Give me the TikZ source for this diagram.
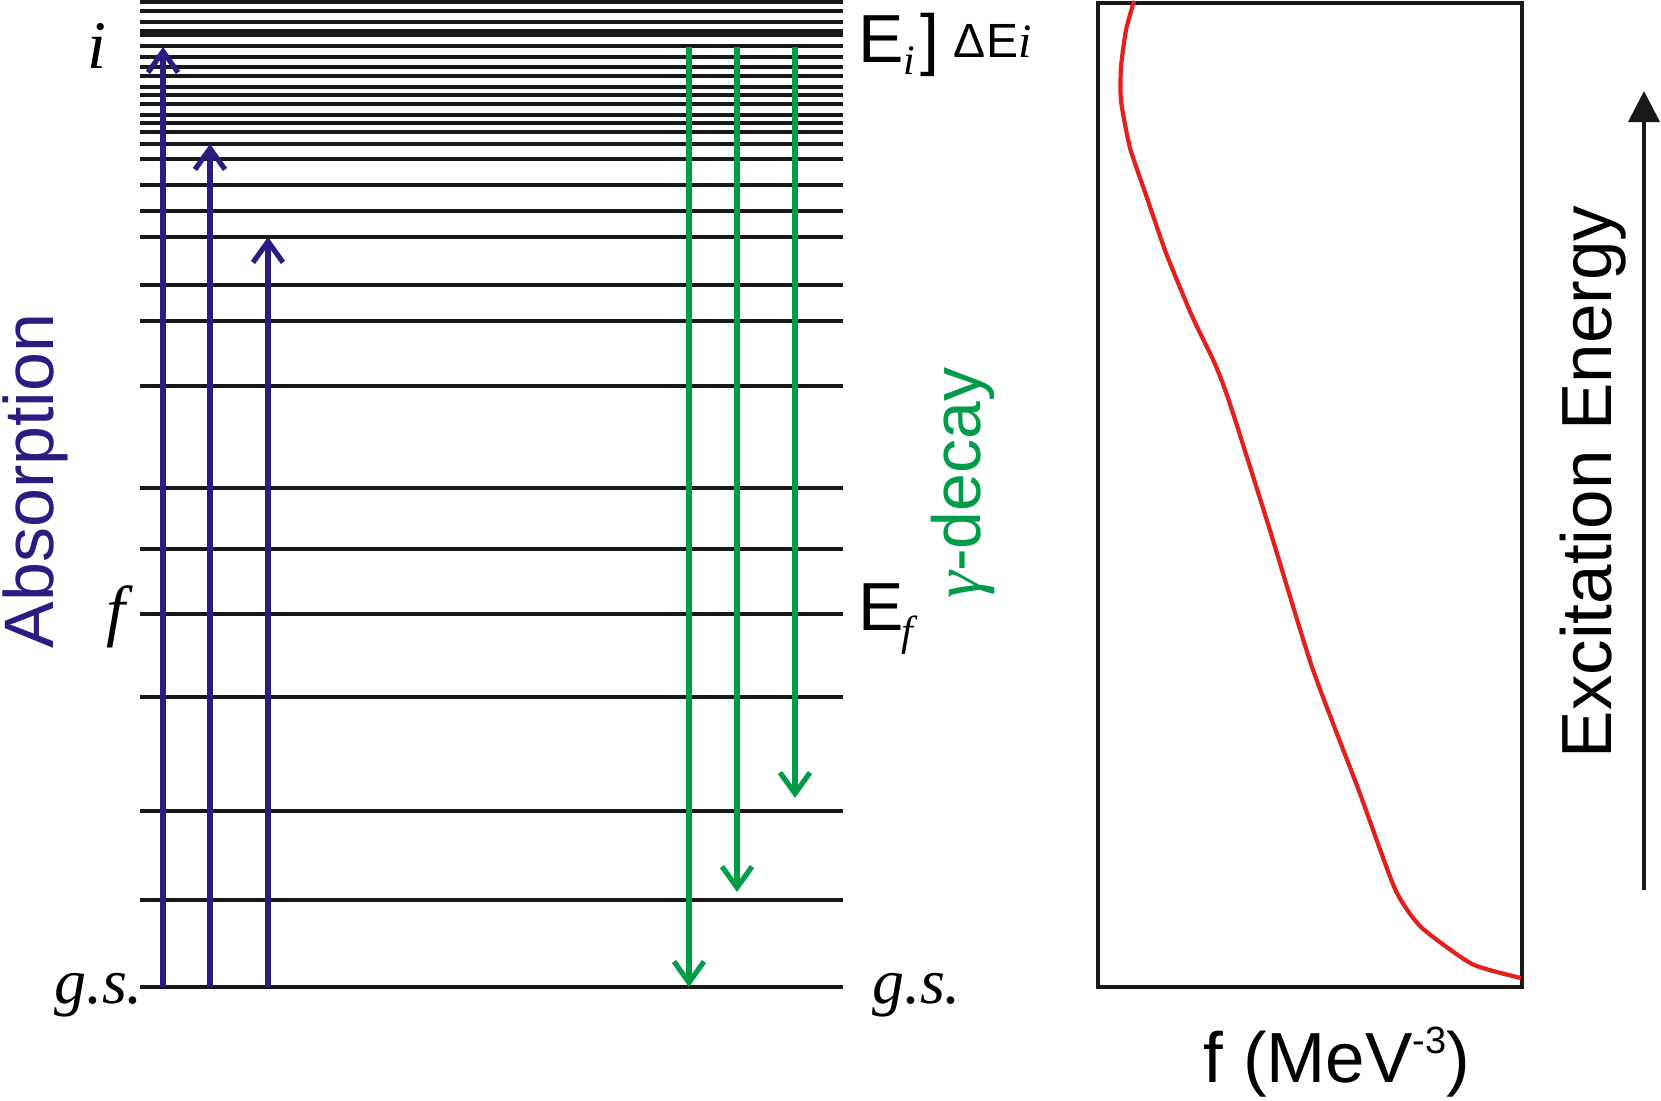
\documentclass[tikz,border=0pt]{standalone}
\usepackage{fontspec}
\setmainfont{Liberation Sans}
\newfontfamily\tnr{Liberation Serif}
\usetikzlibrary{arrows.meta}
\definecolor{absblue}{RGB}{44,28,130}
\definecolor{gamgreen}{RGB}{0,156,74}
\definecolor{curvered}{RGB}{228,32,30}
\tikzset{
  level/.style={line width=4.3pt, black!90},
  upabs/.style={line width=5.2pt, absblue, -{Straight Barb[length=21pt,width=30pt]}},
  downgam/.style={line width=5.2pt, gamgreen, -{Straight Barb[length=21pt,width=30pt]}},
  lbl/.style={inner sep=0pt, outer sep=0pt},
  big/.style={font=\fontsize{68}{80}\selectfont},
  bigger/.style={font=\fontsize{71}{84}\selectfont},
}
\begin{document}
\begin{tikzpicture}[x=1pt,y=-1pt]
\path[use as bounding box, fill=white] (0,0) rectangle (1661,1100);

% level lines
\foreach \yy in {1.8,11,21.7,30.7,34.7,46,56.7,66.7,76,86.7,95,104.3,115,123.3,132.3,144,159.3,185,210.7,236.7,285,321,386,488,549,614,697,811,900,987}{
  \draw[level] (140,\yy) -- (843,\yy);
}

% absorption arrows
\coordinate (a1s) at (163,987); \coordinate (a1e) at (163,47);
\coordinate (a2s) at (210,987); \coordinate (a2e) at (210,144);
\coordinate (a3s) at (268,987); \coordinate (a3e) at (268,237);
\draw[upabs] (a1s) -- (a1e);
\draw[upabs] (a2s) -- (a2e);
\draw[upabs] (a3s) -- (a3e);

% gamma decay arrows
\coordinate (g1s) at (689,47); \coordinate (g1e) at (689,987);
\coordinate (g2s) at (737,47); \coordinate (g2e) at (737,892);
\coordinate (g3s) at (795,47); \coordinate (g3e) at (795,798);
\draw[downgam] (g1s) -- (g1e);
\draw[downgam] (g2s) -- (g2e);
\draw[downgam] (g3s) -- (g3e);

% left labels
\node[lbl, anchor=base, font=\tnr\itshape\fontsize{68}{80}\selectfont] (li) at (97,68) {i};
\node[lbl, anchor=base, font=\tnr\itshape\fontsize{68}{80}\selectfont] (lf) at (116,633) {f};
\node[lbl, anchor=base east, font=\tnr\itshape\fontsize{64}{76}\selectfont] (lgs) at (143,1003) {g.s.};

% right labels
\node[lbl, anchor=base west, big] (Ei) at (858,62) {E};
\node[lbl, anchor=base west, font=\tnr\itshape\fontsize{42}{50}\selectfont] (Eisub) at (903,74) {i};
\node[lbl, anchor=base west, big] (brk) at (920,62) {]};
\node[lbl, anchor=base west, font=\fontsize{48}{56}\selectfont] (dEi) at (953,57) {Δ\kern1ptE{\tnr\itshape i}};
\node[lbl, anchor=base west, big] (Ef) at (858,630) {E};
\node[lbl, anchor=base west, font=\tnr\itshape\fontsize{42}{50}\selectfont] (Efsub) at (901,645) {f};
\node[lbl, anchor=base west, font=\tnr\itshape\fontsize{64}{76}\selectfont] (rgs) at (872,1003) {g.s.};

% rotated labels
\node[lbl, rotate=90, font=\fontsize{70}{82}\selectfont, text=absblue] (absl) at (35,481) {Absorption};
\node[lbl, rotate=90, big, text=gamgreen] (gaml) at (963,483) {{\tnr\itshape γ}-decay};

% right panel
\draw[line width=4.3pt, black!90] (1098,3) rectangle (1522,987);
\draw[curvered, line width=4.2pt, line join=round] plot[smooth, tension=0.35] coordinates {
 (1134,1) (1126,30) (1121,67) (1121,101) (1130,148) (1146,195) (1166,253) (1192,316) (1215,364) (1230,404) (1268,524) (1312,667) (1359,791) (1395,889) (1421,927) (1472,964) (1521,978)};
\node[lbl, bigger] (fax) at (1337,1062) {f (MeV\raisebox{0.42em}{\fontsize{38}{44}\selectfont -3})};

\coordinate (exs) at (1644,890); \coordinate (exe) at (1644,91);
\draw[line width=4pt, black!90, -{Triangle[length=31pt,width=31pt]}] (exs) -- (exe);
\node[lbl, rotate=90, bigger] (exl) at (1593,482) {Excitation Energy};
\end{tikzpicture}
\end{document}
